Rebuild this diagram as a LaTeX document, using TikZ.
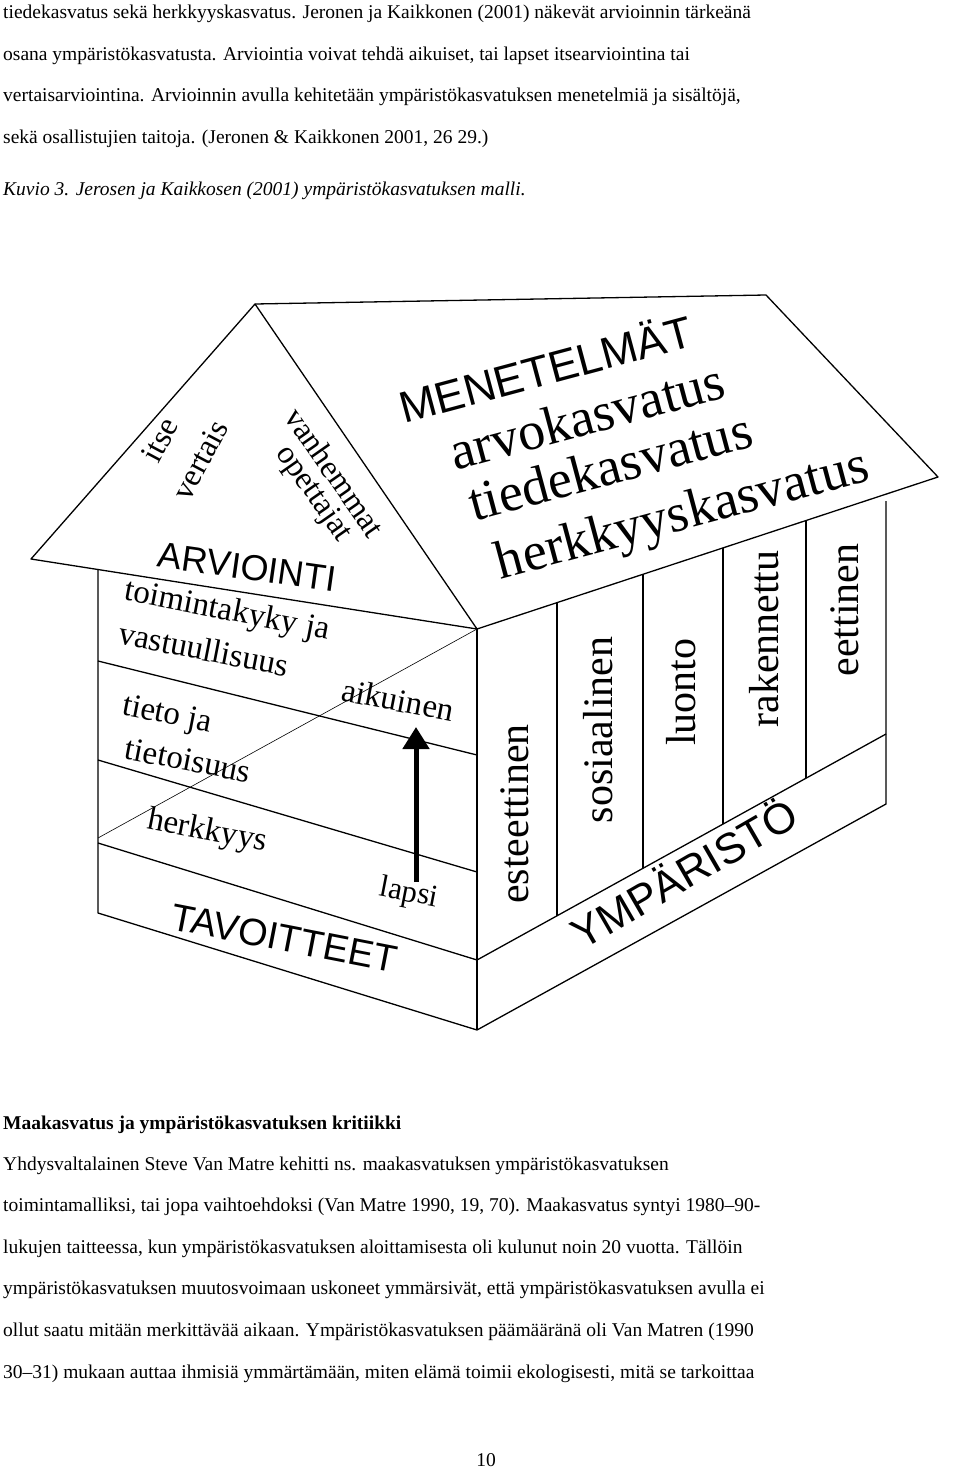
\documentclass[tikz,border=0pt]{standalone}
\usepackage{fontspec}
\setmainfont{Liberation Serif}
\setsansfont{Liberation Sans}
\usetikzlibrary{arrows.meta}
\newcommand{\fsz}[1]{\fontsize{#1}{#1}\selectfont}
\tikzset{
  jline/.style={anchor=base west,text width=954pt,align=justify,inner sep=0pt,font=\fsz{19.5}},
  lline/.style={anchor=base west,inner sep=0pt,font=\fsz{19.5}},
  wall/.style={line width=1.3pt,line join=round},
  capx/.style={inner sep=0pt,font=\sffamily\fsz{#1}},
  low/.style={inner sep=0pt,font=\fsz{#1}},
}
\begin{document}
\begin{tikzpicture}[x=1pt,y=-1pt]
\useasboundingbox (0,0) rectangle (960,1469);
% top text
\node[jline] (t1) at (3,19) {\parfillskip=0pt tiedekasvatus sekä herkkyyskasvatus. Jeronen ja Kaikkonen (2001) näkevät arvioinnin tärkeänä};
\node[jline] (t2) at (3,61) {\parfillskip=0pt osana ympäristökasvatusta. Arviointia voivat tehdä aikuiset, tai lapset itsearviointina tai};
\node[jline] (t3) at (3,102) {\parfillskip=0pt vertaisarviointina. Arvioinnin avulla kehitetään ympäristökasvatuksen menetelmiä ja sisältöjä,};
\node[lline] (t4) at (3,143) {sekä osallistujien taitoja. (Jeronen \& Kaikkonen 2001, 26 29.)};
\node[lline,font=\itshape\fsz{19.5}] (kuv) at (3,195) {Kuvio 3. Jerosen ja Kaikkosen (2001) ympäristökasvatuksen malli.};
% house geometry
\coordinate (A) at (255,304);
\coordinate (R) at (766,295);
\coordinate (E) at (31,559);
\coordinate (C) at (477,629);
\coordinate (RE) at (938,477);
\coordinate (LW) at (98,570);
\coordinate (LB) at (98,913);
\coordinate (CB) at (477,1030);
\coordinate (C3) at (477,960);
\coordinate (RW) at (886,501);
\coordinate (RW2) at (886,734);
\coordinate (RB) at (886,804);
% roof
\draw[wall] (E) -- (A) -- (R) -- (RE) -- (C) -- cycle;
\draw[wall] (A) -- (C);
% walls
\draw[wall] (LW) -- (LB) -- (CB) -- (RB) -- (RW);
\draw[wall] (C) -- (CB);
\draw[wall] (98,661) -- (477,755);
\draw[wall] (98,760) -- (477,872);
\draw[wall] (98,843) -- (C3);
\draw[wall] (C3) -- (RW2);
\foreach \x in {557,643,723,806}{
  \pgfmathsetmacro{\yt}{629-(\x-477)/461*152}
  \pgfmathsetmacro{\yb}{960-(\x-477)/409*226}
  \draw[wall] (\x,\yt) -- (\x,\yb);
}
\draw[line width=0.6pt] (98,838) -- (C);
\coordinate (ab) at (416,882);
\coordinate (at) at (416,727);
\draw[line width=5pt,-{Triangle[length=22pt,width=26pt]}] (ab) -- (at);
% roof texts
\node[capx=44,rotate=15] (men) at (545,367) {MENETELMÄT};
\node[low=54,rotate=15] (arvo) at (587,416) {arvokasvatus};
\node[low=54,rotate=15] (tied) at (610,466) {tiedekasvatus};
\node[low=54,rotate=15] (herk) at (683,517) {herkkyyskasvatus};
\node[low=32,rotate=62] (itse) at (160,440) {itse};
\node[low=32,rotate=62] (vert) at (200,460) {vertais};
\node[low=32,rotate=-55] (vanh) at (335,472) {vanhemmat};
\node[low=32,rotate=-55] (opet) at (313,494) {opettajat};
\node[capx=36,rotate=-8] (arv) at (247,567) {ARVIOINTI};
% left wall
\node[low=33,rotate=-11] (toim) at (227,612) {toimintakyky ja};
\node[low=33,rotate=-11] (vast) at (204,649) {vastuullisuus};
\node[low=33,rotate=-11] (tj) at (167,716) {tieto ja};
\node[low=33,rotate=-11] (tt) at (188,760) {tietoisuus};
\node[low=33,rotate=-11] (aik) at (398,700) {aikuinen};
\node[low=33,rotate=-11] (hk) at (207,832) {herkkyys};
\node[low=31,rotate=-11] (lap) at (409,894) {lapsi};
\node[capx=38,rotate=-11] (tav) at (284,938) {TAVOITTEET};
% columns
\node[low=42,rotate=90] (est) at (515,814) {esteettinen};
\node[low=42,rotate=90] (sos) at (598,730) {sosiaalinen};
\node[low=42,rotate=90] (luo) at (681,692) {luonto};
\node[low=42,rotate=90] (rak) at (764,639) {rakennettu};
\node[low=42,rotate=90] (eet) at (845,610) {eettinen};
\node[capx=43,rotate=30] (ymp) at (683,872) {YMPÄRISTÖ};
% bottom text
\node[lline,font=\bfseries\fsz{19.5}] (h) at (3,1129) {Maakasvatus ja ympäristökasvatuksen kritiikki};
\node[jline] (b1) at (3,1170) {\parfillskip=0pt Yhdysvaltalainen Steve Van Matre kehitti ns. maakasvatuksen ympäristökasvatuksen};
\node[jline] (b2) at (3,1211) {\parfillskip=0pt toimintamalliksi, tai jopa vaihtoehdoksi (Van Matre 1990, 19, 70). Maakasvatus syntyi 1980--90-};
\node[jline] (b3) at (3,1253) {\parfillskip=0pt lukujen taitteessa, kun ympäristökasvatuksen aloittamisesta oli kulunut noin 20 vuotta. Tällöin};
\node[jline] (b4) at (3,1294) {\parfillskip=0pt ympäristökasvatuksen muutosvoimaan uskoneet ymmärsivät, että ympäristökasvatuksen avulla ei};
\node[jline] (b5) at (3,1336) {\parfillskip=0pt ollut saatu mitään merkittävää aikaan. Ympäristökasvatuksen päämääränä oli Van Matren (1990};
\node[jline] (b6) at (3,1378) {\parfillskip=0pt 30--31) mukaan auttaa ihmisiä ymmärtämään, miten elämä toimii ekologisesti, mitä se tarkoittaa};
\node[lline,anchor=base] (pg) at (486,1466) {10};
\end{tikzpicture}
\end{document}
